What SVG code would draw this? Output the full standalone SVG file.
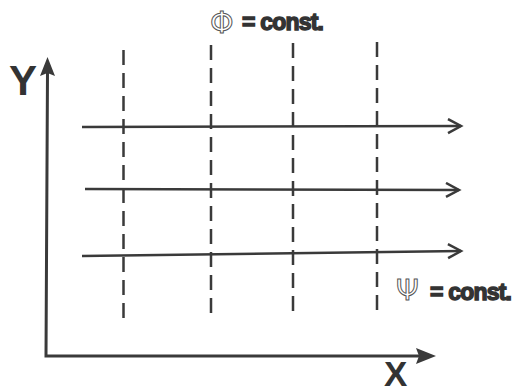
<svg xmlns="http://www.w3.org/2000/svg" width="527" height="390" viewBox="0 0 527 390">
<defs>
<style>
.dash{stroke:#3a3a3a;stroke-width:2.5;stroke-dasharray:15 8;fill:none}
.line{stroke:#3a3a3a;stroke-width:2.5;fill:none}
.axis{stroke:#3a3a3a;stroke-width:3;fill:none}
.lbl{font-family:"Liberation Sans",Arial,sans-serif;font-weight:bold;fill:#333;stroke:#333;stroke-width:1.4;letter-spacing:-0.8px}
.sym{font-family:"DejaVu Sans","Liberation Sans",sans-serif;fill:none;stroke:#555;stroke-width:1}
.big{font-family:"Liberation Sans",Arial,sans-serif;font-weight:bold;fill:#333}
</style>
<marker id="open" markerWidth="20" markerHeight="20" refX="15" refY="8" orient="auto" markerUnits="userSpaceOnUse">
<path d="M2,1 L15,8 L2,15" fill="none" stroke="#3a3a3a" stroke-width="2.5"/>
</marker>
</defs>
<rect width="527" height="390" fill="#fff"/>
<g id="connectors">
<line class="dash" x1="123.5" y1="50" x2="123.5" y2="323"/>
<line class="dash" x1="211" y1="45" x2="211" y2="319"/>
<line class="dash" x1="293" y1="43" x2="293" y2="317"/>
<line class="dash" x1="377" y1="42" x2="377" y2="315"/>
<line class="line" x1="82" y1="127" x2="461" y2="126" marker-end="url(#open)"/>
<line class="line" x1="85" y1="189" x2="459" y2="190" marker-end="url(#open)"/>
<line class="line" x1="82" y1="256" x2="461" y2="251" marker-end="url(#open)"/>
</g>
<g id="axes">
<polyline class="axis" points="47.5,72 46,356 420,356"/>
<path d="M47.5,57 L55,76 L47.5,73 L40,76 Z" fill="#3a3a3a"/>
<path d="M436,356 L416,364 L419,356 L416,348 Z" fill="#3a3a3a"/>
</g>
<g id="label-y"><text class="big" x="9" y="95" font-size="42">Y</text></g>
<g id="label-x"><text class="big" x="384" y="386" font-size="35">X</text></g>
<g id="label-phi">
<text class="sym" x="210" y="33" font-size="30">Φ</text>
<text class="lbl" x="242" y="30" font-size="23">= const.</text>
</g>
<g id="label-psi">
<text class="sym" x="396" y="300" font-size="29">Ψ</text>
<text class="lbl" x="430" y="300" font-size="23">= const.</text>
</g>
</svg>
